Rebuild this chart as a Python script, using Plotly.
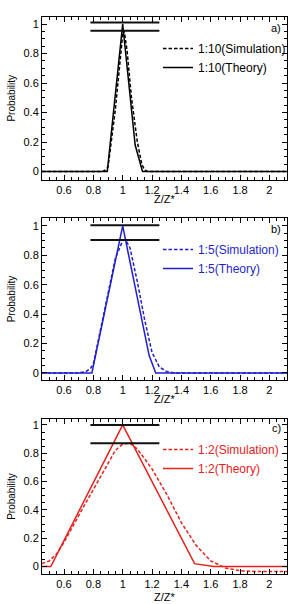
import plotly.graph_objects as go

# ---------------- data ----------------
# panel a) 1:10
a_theory_x = [0.45, 0.895, 1.0, 1.085, 1.135, 2.15]
a_theory_y = [0.0, 0.0, 1.0, 0.18, 0.0, 0.0]
a_sim_x = [0.45, 0.86, 0.88, 0.90, 0.95, 0.98, 1.0, 1.01, 1.03, 1.06, 1.10, 1.13, 1.15, 1.17, 2.15]
a_sim_y = [0.0, 0.0, 0.01, 0.03, 0.42, 0.75, 0.93, 0.955, 0.82, 0.5, 0.2, 0.05, 0.01, 0.0, 0.0]
a_peaks = [1.01, 0.955]

# panel b) 1:5
b_theory_x = [0.45, 0.79, 1.0, 1.18, 1.225, 2.15]
b_theory_y = [0.0, 0.0, 1.0, 0.12, 0.0, 0.0]
b_sim_x = [0.45, 0.70, 0.75, 0.78, 0.80, 0.85, 0.90, 0.95, 1.0, 1.02, 1.05, 1.10, 1.15, 1.20, 1.25, 1.30, 1.35, 2.15]
b_sim_y = [0.0, 0.0, 0.01, 0.03, 0.06, 0.30, 0.55, 0.78, 0.90, 0.905, 0.85, 0.62, 0.36, 0.14, 0.04, 0.01, 0.0, 0.0]
b_peaks = [1.005, 0.905]

# panel c) 1:2
c_theory_x = [0.45, 0.51, 1.0, 1.49, 1.62, 2.15]
c_theory_y = [0.0, 0.0, 1.0, 0.02, 0.0, 0.0]
c_sim_x = [0.45, 0.50, 0.55, 0.60, 0.70, 0.80, 0.90, 0.95, 1.0, 1.05, 1.10, 1.20, 1.30, 1.40, 1.50, 1.60, 1.70, 1.80, 1.90, 2.15]
c_sim_y = [0.02, 0.04, 0.09, 0.17, 0.36, 0.54, 0.73, 0.82, 0.865, 0.87, 0.83, 0.69, 0.51, 0.31, 0.15, 0.04, -0.01, -0.03, -0.035, -0.035]
c_peaks = [1.0, 0.87]

peak_bar_x = [0.78, 1.25]

x_ticks = [0.6, 0.8, 1.0, 1.2, 1.4, 1.6, 1.8, 2.0]
x_tick_labels = ["0.6", "0.8", "1", "1.2", "1.4", "1.6", "1.8", "2"]
y_ticks = [0, 0.2, 0.4, 0.6, 0.8, 1.0]
y_tick_labels = ["0", "0.2", "0.4", "0.6", "0.8", "1"]

panels = [
    dict(name="1:10", tag="a)", color="#000000", tx=a_theory_x, ty=a_theory_y, sx=a_sim_x, sy=a_sim_y, peaks=a_peaks),
    dict(name="1:5", tag="b)", color="#1f1fd0", tx=b_theory_x, ty=b_theory_y, sx=b_sim_x, sy=b_sim_y, peaks=b_peaks),
    dict(name="1:2", tag="c)", color="#e8201c", tx=c_theory_x, ty=c_theory_y, sx=c_sim_x, sy=c_sim_y, peaks=c_peaks),
]

# ---------------- layout geometry (pixels) ----------------
W, H = 296, 604
x_left, x_right = 42, 287
boxes = [(17, 179.5), (218, 380), (419, 574)]
y_ranges = [[-0.054, 1.048], [-0.048, 1.054], [-0.053, 1.042]]
x_range = [0.45, 2.12]
legend_tops = [34, 235, 435]
tag_y = [28, 229, 428]
xtitle_y = [198.5, 398.5, 597]

FONT = "Liberation Sans, Arial, sans-serif"

fig = go.Figure()
layout = dict(
    width=W, height=H,
    margin=dict(l=0, r=0, t=0, b=0),
    paper_bgcolor="white", plot_bgcolor="white",
    font=dict(family=FONT, size=11, color="black"),
    annotations=[],
)

for i, p in enumerate(panels):
    sfx = "" if i == 0 else str(i + 1)
    xa, ya = "x" + sfx, "y" + sfx
    leg = "legend" + sfx
    fig.add_trace(go.Scatter(
        x=p["sx"], y=p["sy"], mode="lines", xaxis=xa, yaxis=ya,
        name=p["name"] + "(Simulation)", legend=leg,
        line=dict(color=p["color"], width=1.5, dash="3.5px,2px"),
    ))
    fig.add_trace(go.Scatter(
        x=p["tx"], y=p["ty"], mode="lines", xaxis=xa, yaxis=ya,
        name=p["name"] + "(Theory)", legend=leg,
        line=dict(color=p["color"], width=1.5),
    ))
    bx, by = [], []
    for pk in p["peaks"]:
        bx += [peak_bar_x[0], peak_bar_x[1], None]
        by += [pk, pk, None]
    fig.add_trace(go.Scatter(
        x=bx, y=by, mode="lines", xaxis=xa, yaxis=ya, showlegend=False,
        line=dict(color="#111111", width=2), hoverinfo="skip",
    ))

    top, bot = boxes[i]
    axis_common = dict(
        showline=True, linecolor="black", linewidth=1, mirror="allticks",
        ticks="inside", ticklen=5, tickwidth=1, tickcolor="black",
        showgrid=False, zeroline=False,
        tickfont=dict(family=FONT, size=11, color="black"),
    )
    layout["xaxis" + sfx] = dict(
        axis_common, domain=[x_left / W, x_right / W], range=x_range,
        anchor=ya, tickvals=x_ticks, ticktext=x_tick_labels,
        minor=dict(dtick=0.05, tick0=0, ticks="inside", ticklen=3, tickcolor="black"),
    )
    layout["yaxis" + sfx] = dict(
        axis_common, domain=[1 - bot / H, 1 - top / H], range=y_ranges[i],
        anchor=xa, tickvals=y_ticks, ticktext=y_tick_labels,
        minor=dict(dtick=0.05, tick0=0, ticks="inside", ticklen=3, tickcolor="black"),
        title=dict(text="Probability", font=dict(family=FONT, size=10, color="black"), standoff=6),
    )
    layout[leg] = dict(
        x=158 / W, y=1 - legend_tops[i] / H, xanchor="left", yanchor="top",
        bgcolor="rgba(0,0,0,0)", borderwidth=0,
        font=dict(family=FONT, size=12, color=p["color"]),
        itemwidth=30, traceorder="normal",
    )
    # x-axis title (placed tight under the tick labels as in the original)
    layout["annotations"].append(dict(
        text="Z/Z*", xref="x" + sfx + " domain", yref="paper", x=0.5, y=1 - xtitle_y[i] / H,
        xanchor="center", yanchor="middle", showarrow=False,
        font=dict(family=FONT, size=11, color="black"),
    ))
    layout["annotations"].append(dict(
        text=p["tag"], xref="paper", yref="paper", x=283 / W, y=1 - tag_y[i] / H,
        xanchor="right", yanchor="middle", showarrow=False,
        font=dict(family=FONT, size=11, color="black"),
    ))

fig.update_layout(**layout)
fig.write_html("out.html")
